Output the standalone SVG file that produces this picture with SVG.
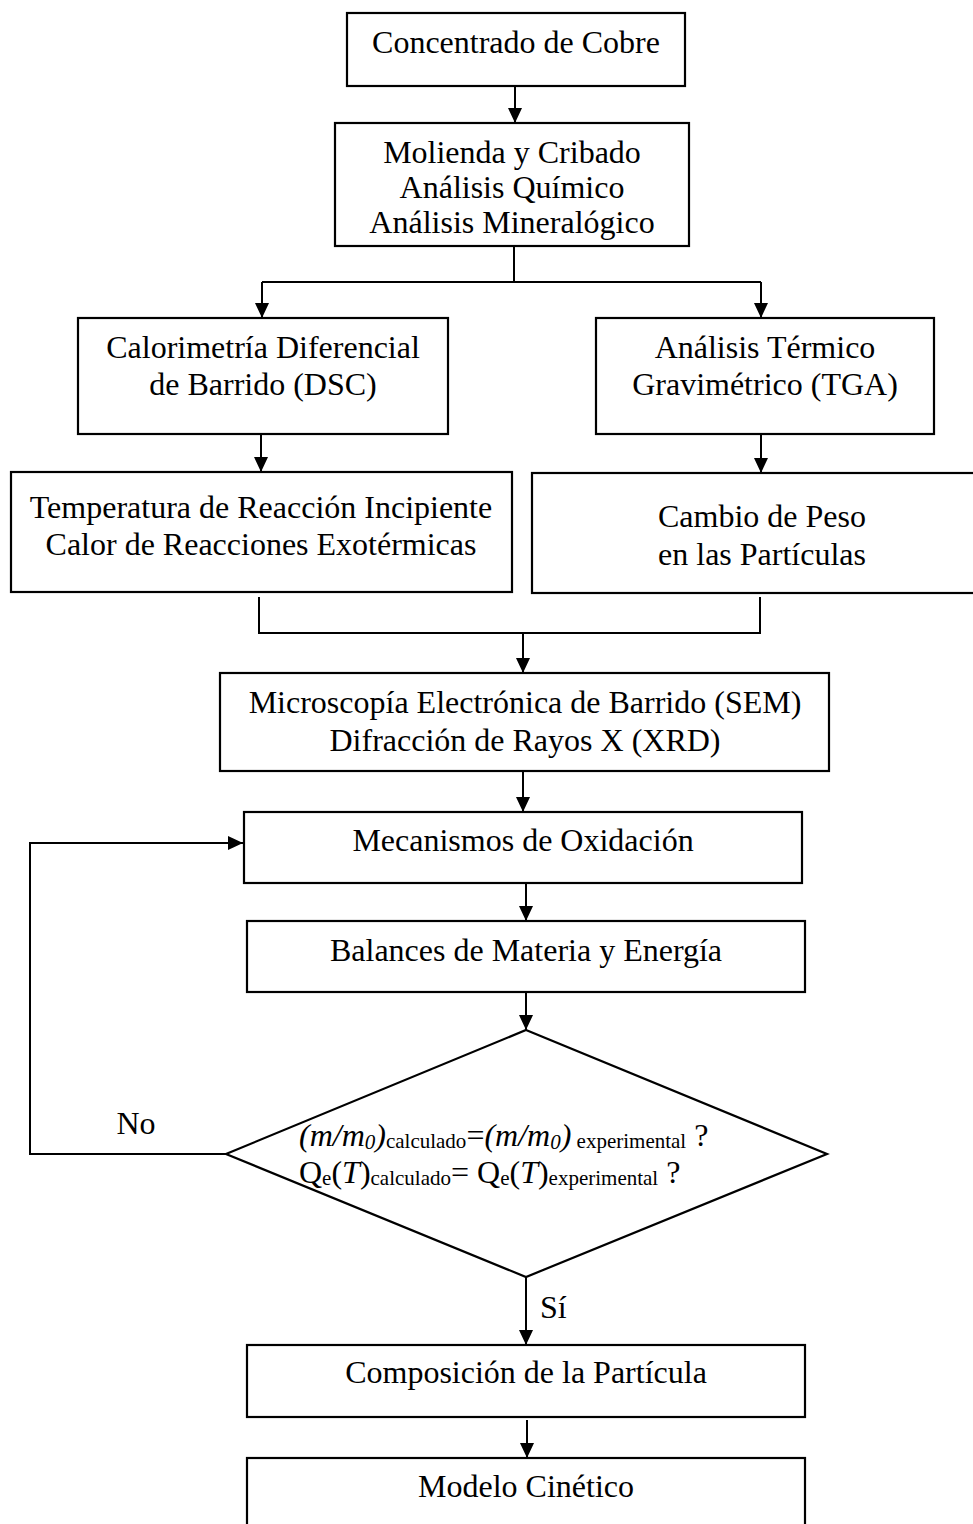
<svg xmlns="http://www.w3.org/2000/svg" width="973" height="1524" viewBox="0 0 973 1524">
<style>
.box{fill:#fff;stroke:#000;stroke-width:2.2}
.t{font-family:"Liberation Serif","Times New Roman",serif;font-size:32px;fill:#000;text-anchor:middle}
.d{font-family:"Liberation Serif","Times New Roman",serif;font-size:32px;fill:#000}
.s{font-size:21px}
.i{font-style:italic}
.c{fill:none;stroke:#000;stroke-width:2}
</style>
<defs>
<marker id="ah" viewBox="0 0 15 14" refX="15" refY="7" markerWidth="15" markerHeight="14" markerUnits="userSpaceOnUse" orient="auto">
<path d="M0,0 L15,7 L0,14 z" fill="#000"/>
</marker>
</defs>
<rect width="973" height="1524" fill="#fff"/>
<g id="connectors">
<path class="c" d="M515,86 V123" marker-end="url(#ah)"/>
<path class="c" d="M514,246 V282"/>
<path class="c" d="M262,282 H761"/>
<path class="c" d="M262,282 V318" marker-end="url(#ah)"/>
<path class="c" d="M761,282 V318" marker-end="url(#ah)"/>
<path class="c" d="M261,435 V472" marker-end="url(#ah)"/>
<path class="c" d="M761,435 V473" marker-end="url(#ah)"/>
<path class="c" d="M259,597 V633 H760 V597"/>
<path class="c" d="M523,633 V673" marker-end="url(#ah)"/>
<path class="c" d="M523,772 V812" marker-end="url(#ah)"/>
<path class="c" d="M526,884 V921" marker-end="url(#ah)"/>
<path class="c" d="M526,993 V1030" marker-end="url(#ah)"/>
<path class="c" d="M226,1154 H30 V843 H243" marker-end="url(#ah)"/>
<path class="c" d="M526,1277 V1345" marker-end="url(#ah)"/>
<path class="c" d="M527,1420 V1458" marker-end="url(#ah)"/>
</g>
<g id="n1"><rect class="box" x="347" y="13" width="338" height="73"/><text class="t" x="516" y="53">Concentrado de Cobre</text></g>
<g id="n2"><rect class="box" x="335" y="123" width="354" height="123"/>
<text class="t" x="512" y="163">Molienda y Cribado</text>
<text class="t" x="512" y="198">Análisis Químico</text>
<text class="t" x="512" y="233">Análisis Mineralógico</text></g>
<g id="n3"><rect class="box" x="78" y="318" width="370" height="116"/>
<text class="t" x="263" y="358">Calorimetría Diferencial</text>
<text class="t" x="263" y="395">de Barrido (DSC)</text></g>
<g id="n4"><rect class="box" x="596" y="318" width="338" height="116"/>
<text class="t" x="765" y="358">Análisis Térmico</text>
<text class="t" x="765" y="395">Gravimétrico (TGA)</text></g>
<g id="n5"><rect class="box" x="11" y="472" width="501" height="120"/>
<text class="t" x="261" y="518">Temperatura de Reacción Incipiente</text>
<text class="t" x="261" y="555">Calor de Reacciones Exotérmicas</text></g>
<g id="n6"><rect class="box" x="532" y="473" width="460" height="120"/>
<text class="t" x="762" y="527">Cambio de Peso</text>
<text class="t" x="762" y="565">en las Partículas</text></g>
<g id="n7"><rect class="box" x="220" y="673" width="609" height="98"/>
<text class="t" x="525" y="713">Microscopía Electrónica de Barrido (SEM)</text>
<text class="t" x="525" y="751">Difracción de Rayos X (XRD)</text></g>
<g id="n8"><rect class="box" x="244" y="812" width="558" height="71"/>
<text class="t" x="523" y="851">Mecanismos de Oxidación</text></g>
<g id="n9"><rect class="box" x="247" y="921" width="558" height="71"/>
<text class="t" x="526" y="961">Balances de Materia y Energía</text></g>
<g id="n10"><path class="box" d="M526,1030 L827,1154 L526,1277 L226,1154 Z"/>
<text class="d" x="299" y="1146"><tspan class="i">(m/m</tspan><tspan class="i s" dy="3">0</tspan><tspan class="i" dy="-3">)</tspan><tspan class="s" dy="2">calculado</tspan><tspan dy="-2">=</tspan><tspan class="i">(m/m</tspan><tspan class="i s" dy="3">0</tspan><tspan class="i" dy="-3">)</tspan><tspan class="s" dy="2"> experimental</tspan><tspan dy="-2"> ?</tspan></text>
<text class="d" x="299" y="1183">Q<tspan class="s" dy="2">e</tspan><tspan dy="-2">(</tspan><tspan class="i">T</tspan>)<tspan class="s" dy="2">calculado</tspan><tspan dy="-2">= Q</tspan><tspan class="s" dy="2">e</tspan><tspan dy="-2">(</tspan><tspan class="i">T</tspan>)<tspan class="s" dy="2">experimental</tspan><tspan dy="-2"> ?</tspan></text></g>
<g id="n11"><rect class="box" x="247" y="1345" width="558" height="72"/>
<text class="t" x="526" y="1383">Composición de la Partícula</text></g>
<g id="n12"><rect class="box" x="247" y="1458" width="558" height="80"/>
<text class="t" x="526" y="1497">Modelo Cinético</text></g>
<g id="labels">
<text class="t" x="136" y="1134">No</text>
<text class="d" x="540" y="1318">Sí</text>
</g>
</svg>
